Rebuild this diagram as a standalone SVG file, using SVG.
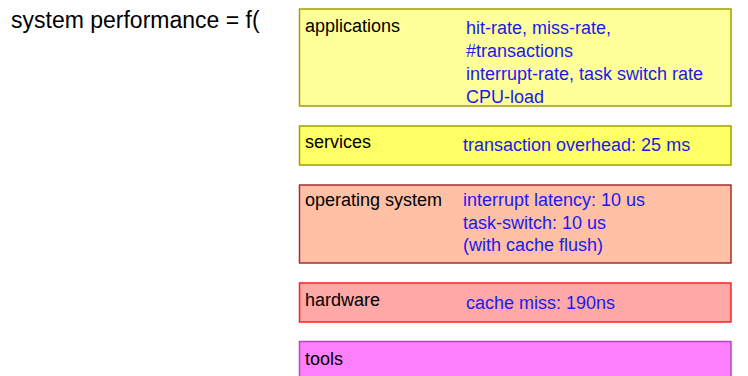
<svg xmlns="http://www.w3.org/2000/svg" width="748" height="376" viewBox="0 0 748 376">
<style>
text{font-family:"Liberation Sans",Arial,sans-serif;font-size:18px;fill:#000}
.t{font-size:23px}
.v{fill:#1a1aee}
rect{stroke-width:1.5}
</style>
<rect width="748" height="376" fill="#fff"/>
<text class="t" x="11" y="28">system performance = f(</text>
<g id="applications">
<rect x="299.5" y="9" width="431.5" height="97" fill="#ffff99" stroke="#a0a000"/>
<text x="305" y="32">applications</text>
<text class="v" x="466" y="34">hit-rate, miss-rate,</text>
<text class="v" x="466" y="57">#transactions</text>
<text class="v" x="466" y="80">interrupt-rate, task switch rate</text>
<text class="v" x="466" y="103">CPU-load</text>
</g>
<g id="services">
<rect x="299.5" y="126" width="431.5" height="39" fill="#ffff66" stroke="#a0a000"/>
<text x="305" y="148">services</text>
<text class="v" x="463" y="151">transaction overhead: 25 ms</text>
</g>
<g id="os">
<rect x="299.5" y="185" width="431.5" height="78" fill="#ffc0a5" stroke="#a03030"/>
<text x="305" y="206">operating system</text>
<text class="v" x="463" y="206">interrupt latency: 10 us</text>
<text class="v" x="463" y="228.5">task-switch: 10 us</text>
<text class="v" x="463" y="251">(with cache flush)</text>
</g>
<g id="hardware">
<rect x="299.5" y="283" width="431.5" height="39" fill="#ffa8a8" stroke="#ff2020"/>
<text x="305" y="305.5">hardware</text>
<text class="v" x="466" y="309">cache miss: 190ns</text>
</g>
<g id="tools">
<rect x="299.5" y="341.5" width="431.5" height="40" fill="#ff80ff" stroke="#b048c0"/>
<text x="305" y="365">tools</text>
</g>
<g id="connectors"/>
</svg>
